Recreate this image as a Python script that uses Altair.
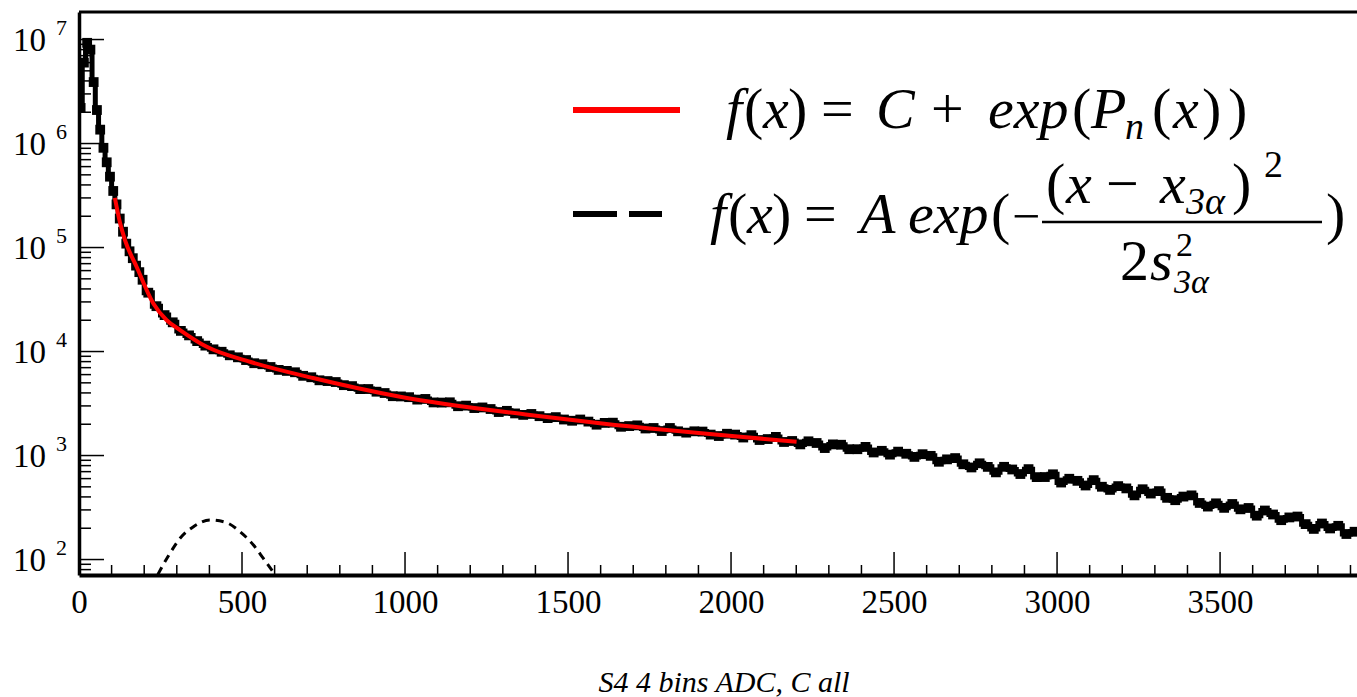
import altair as alt
import pandas as pd

# ---------------------------------------------------------------
# S4 spectrum: 4-bin ADC sum, all channels (log scale)
# ---------------------------------------------------------------
FINE_WIDTH = 10      # bin width below ADC 200
COARSE_WIDTH = 25    # bin width from ADC 200 upwards
COARSE_START = 200

fine_counts = [2.2e6, 6.0e6, 9.3e6, 8.0e6, 3.9e6, 2.1e6, 1.36e6, 9.1e5, 6.6e5, 4.8e5,
               3.5e5, 2.6e5, 1.9e5, 1.42e5, 1.09e5, 9.2e4, 7.9e4, 6.7e4, 5.8e4, 4.9e4]

coarse_counts = [
    36800, 27300, 22400, 19100, 15800, 14300, 12600, 11400, 10500, 9950, 9200, 8800,
    8280, 7720, 7550, 7100, 6660, 6510, 6320, 5840, 5660, 5290,
    5200, 5090, 4750, 4650, 4350, 4360, 4110, 3990, 3720, 3700,
    3640, 3450, 3500, 3240, 3230, 3250, 2980, 3020, 2860, 2900,
    2800, 2620, 2690, 2540, 2460, 2510, 2390, 2290, 2340, 2220,
    2160, 2220, 2120, 1980, 2060, 2070, 1890, 1920, 1950, 1820,
    1840, 1720, 1840, 1710, 1660, 1710, 1700, 1590, 1540, 1620,
    1590, 1490, 1570, 1410, 1440, 1510, 1350, 1380, 1280, 1370, 1320, 1180,
    1280, 1270, 1150, 1150, 1210, 1070, 1110, 1020, 1090, 1040, 970, 1030,
    993, 871, 919, 945, 824, 768, 842, 778, 689, 779,
    734, 664, 740, 620, 621, 660, 550, 598, 571, 515,
    580, 501, 467, 508, 483, 414, 474, 431, 455, 392,
    372, 403, 414, 350, 323, 347, 314, 342, 304, 313,
    264, 296, 271, 239, 254, 259, 219, 197, 222, 199,
    211, 176, 185,
]

# fit C + exp(P_n(x)) over the range 110 - 2200
fit_x = [110, 126, 141, 177, 228, 269, 310, 392, 524, 718, 985, 1383, 1598, 2201]
fit_y = [3.0e5, 1.72e5, 1.18e5, 6.5e4, 2.9e4, 2.0e4, 1.61e4, 1.11e4, 7.98e3,
         5.56e3, 3.67e3, 2.45e3, 2.04e3, 1.36e3]

# Gaussian component for the 3-alpha peak
gauss_x = [242, 279, 310, 351, 402, 453, 494, 535, 565, 601]
gauss_y = [72, 115, 160, 207, 240, 226, 185, 138, 103, 72]

# axis ticks
X_MAX = 3920
Y_MIN, Y_MAX = 71, 1.84e7
x_major = [0, 500, 1000, 1500, 2000, 2500, 3000, 3500]
x_minor = [v for v in range(100, X_MAX, 100) if v % 500 != 0]
y_decades = [2, 3, 4, 5, 6, 7]
y_minor = [m * 10 ** k for k in range(1, 7) for m in range(2, 10)
           if Y_MIN <= m * 10 ** k <= Y_MAX]

# ---------------------------------------------------------------
# layout
# ---------------------------------------------------------------
LEFT, TOP = 79, 12
W, H = 1357 - LEFT, 563
SERIF = "'Liberation Serif', 'Times New Roman', 'DejaVu Serif', serif"

lo = [i * FINE_WIDTH for i in range(len(fine_counts))] + \
     [COARSE_START + j * COARSE_WIDTH for j in range(len(coarse_counts))]
counts = fine_counts + coarse_counts
hi = [a + (FINE_WIDTH if a < COARSE_START else COARSE_WIDTH) for a in lo]

bins = pd.DataFrame({"lo": lo, "hi": hi, "n": counts,
                     "mid": [(a + b) / 2 for a, b in zip(lo, hi)]})
steps = pd.DataFrame({"edge": lo + [hi[-1]], "n": counts + [counts[-1]]})
fit = pd.DataFrame({"x": fit_x, "y": fit_y})
gauss = pd.DataFrame({"x": gauss_x, "y": gauss_y})
one = pd.DataFrame({"k": [0]})

xs = alt.Scale(domain=[0, X_MAX], nice=False, zero=False)
ys = alt.Scale(type="log", domain=[Y_MIN, Y_MAX], nice=False)

x_axis = alt.Axis(values=x_major, format="d", ticks=False, grid=False, title=None,
                  labelFont=SERIF, labelFontSize=33, labelColor="black",
                  labelPadding=11, labelFlush=False, domainColor="black",
                  domainWidth=4)
y_axis = alt.Axis(labels=False, ticks=False, grid=False, title=None,
                  domainColor="black", domainWidth=3.5)

# statistical error bars (sqrt N)
errors = alt.Chart(bins).transform_calculate(
    lo_e="datum.n - sqrt(datum.n)", hi_e="datum.n + sqrt(datum.n)"
).mark_rect(color="black", clip=True).encode(
    x=alt.X("lo:Q", scale=xs, axis=x_axis),
    x2="hi:Q",
    y=alt.Y("lo_e:Q", scale=ys, axis=y_axis),
    y2="hi_e:Q",
)

hist = alt.Chart(steps).mark_line(
    interpolate="step-after", color="black", strokeWidth=5, clip=True
).encode(x=alt.X("edge:Q", scale=xs), y=alt.Y("n:Q", scale=ys))

# filled square markers at the bin centres
markers = alt.Chart(bins).mark_square(
    size=96, color="black", opacity=1, filled=True, clip=True
).encode(x=alt.X("mid:Q", scale=xs), y=alt.Y("n:Q", scale=ys))

fit_line = alt.Chart(fit).mark_line(
    interpolate="monotone", color="#ff0000", strokeWidth=4, clip=True
).encode(x=alt.X("x:Q", scale=xs), y=alt.Y("y:Q", scale=ys))

gauss_line = alt.Chart(gauss).mark_line(
    interpolate="monotone", color="black", strokeWidth=3, strokeDash=[8, 6], clip=True
).encode(x=alt.X("x:Q", scale=xs), y=alt.Y("y:Q", scale=ys))

# inward ticks, ROOT style
x_major_ticks = alt.Chart(pd.DataFrame({"v": x_major})).mark_rule(
    color="black", strokeWidth=1.5).encode(
    x=alt.X("v:Q", scale=xs), y=alt.value(H), y2=alt.value(H - 23))
x_minor_ticks = alt.Chart(pd.DataFrame({"v": x_minor})).mark_rule(
    color="black", strokeWidth=1.5).encode(
    x=alt.X("v:Q", scale=xs), y=alt.value(H), y2=alt.value(H - 10))
y_major_ticks = alt.Chart(pd.DataFrame({"v": [10 ** k for k in y_decades]})).mark_rule(
    color="black", strokeWidth=1.5).encode(
    y=alt.Y("v:Q", scale=ys), x=alt.value(0), x2=alt.value(25))
y_minor_ticks = alt.Chart(pd.DataFrame({"v": y_minor})).mark_rule(
    color="black", strokeWidth=1.5).encode(
    y=alt.Y("v:Q", scale=ys), x=alt.value(0), x2=alt.value(12))

top_frame = alt.Chart(one).mark_rule(color="black", strokeWidth=3).encode(
    x=alt.value(0), x2=alt.value(W), y=alt.value(0))

# y labels: "10" with a raised exponent
dec = pd.DataFrame({"v": [10 ** k for k in y_decades], "e": [str(k) for k in y_decades]})
y_base = alt.Chart(dec).mark_text(
    text="10", font=SERIF, fontSize=33, align="right", baseline="alphabetic",
    dy=11, color="black").encode(y=alt.Y("v:Q", scale=ys), x=alt.value(-33))
y_exp = alt.Chart(dec).mark_text(
    font=SERIF, fontSize=22, align="left", baseline="alphabetic",
    dy=-5, color="black").encode(y=alt.Y("v:Q", scale=ys), x=alt.value(-23), text="e:N")

FS = 58      # formula font size
FSS = 38     # sub/superscript size


def piece(text, x, y, size=FS, italic=False):
    """A text fragment placed in page pixels."""
    return alt.Chart(one).mark_text(
        text=text, font=SERIF, fontSize=size,
        fontStyle="italic" if italic else "normal",
        align="left", baseline="alphabetic", color="black",
    ).encode(x=alt.value(x - LEFT), y=alt.value(y - TOP))


def hline(x1, x2, y, width, color, dash=None):
    kw = {"strokeDash": dash} if dash else {}
    return alt.Chart(one).mark_rule(color=color, strokeWidth=width, **kw).encode(
        x=alt.value(x1 - LEFT), x2=alt.value(x2 - LEFT), y=alt.value(y - TOP))


B1, B2 = 128, 233
NUM, DEN = 203, 280
legend = [
    hline(573, 680, 110, 6, "#ff0000"),
    hline(573, 662, 214, 6, "black", [44, 12]),
    # f(x) = C + exp(P_n(x))
    piece("f", 726, B1, italic=True), piece("(", 744, B1), piece("x", 763, B1, italic=True),
    piece(")", 788, B1), piece("=", 821, B1), piece("C", 876, B1, italic=True),
    piece("+", 931, B1), piece("exp", 988, B1, italic=True), piece("(", 1072, B1),
    piece("P", 1091, B1, italic=True), piece("n", 1125, B1 + 11, FSS, True),
    piece("(", 1152, B1), piece("x", 1173, B1, italic=True),
    piece(")", 1202, B1), piece(")", 1228, B1),
    # f(x) = A exp(-(x - x_3a)^2 / 2 s_3a^2)
    piece("f", 710, B2, italic=True), piece("(", 728, B2), piece("x", 747, B2, italic=True),
    piece(")", 772, B2), piece("=", 804, B2), piece("A", 860, B2, italic=True),
    piece("exp", 908, B2, italic=True), piece("(", 991, B2), piece("\u2212", 1012, B2, 50),
    hline(1042, 1322, 222, 2.5, "black"),
    piece("(", 1046, NUM), piece("x", 1066, NUM, italic=True), piece("\u2212", 1106, NUM),
    piece("x", 1160, NUM, italic=True), piece("3\u03b1", 1186, NUM + 11, FSS, True),
    piece(")", 1232, NUM), piece("2", 1264, NUM - 26, FSS),
    piece("2", 1120, DEN), piece("s", 1150, DEN, italic=True),
    piece("2", 1176, DEN - 24, 34), piece("3\u03b1", 1174, DEN + 13, 34, True),
    piece(")", 1326, B2),
]

x_title = alt.Chart(one).mark_text(
    text="S4 4 bins ADC, C all", font=SERIF, fontSize=30, fontStyle="italic",
    align="center", baseline="middle", color="black",
).encode(x=alt.value(724 - LEFT), y=alt.value(683 - TOP))

chart = alt.layer(
    errors, hist, markers, fit_line, gauss_line,
    x_major_ticks, x_minor_ticks, y_major_ticks, y_minor_ticks, top_frame,
    y_base, y_exp, x_title, *legend,
).properties(
    width=W, height=H,
    padding={"left": LEFT, "top": TOP, "right": 0, "bottom": 697 - TOP - H},
    autosize=alt.AutoSizeParams(type="none"),
    background="white",
).configure_view(stroke=None)

chart.save("out.html", embed_options={"renderer": "svg", "actions": False})
